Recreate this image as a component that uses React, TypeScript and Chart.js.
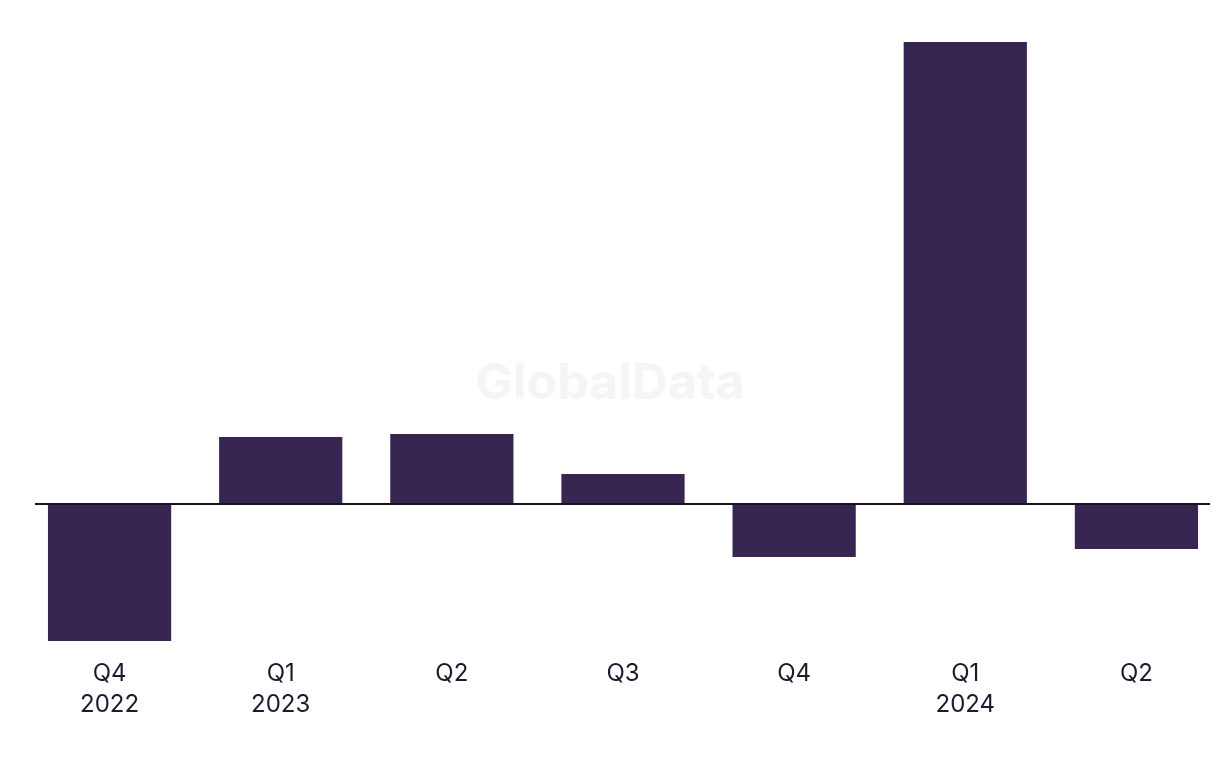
import React, { useEffect, useRef } from "react";
import { Chart, registerables } from "chart.js";

Chart.register(...registerables);

const quarters: string[][] = [["Q4", "2022"], ["Q1", "2023"], ["Q2"], ["Q3"], ["Q4"], ["Q1", "2024"], ["Q2"]];
const values: number[] = [-13.7, 6.7, 7.0, 3.0, -5.3, 46.2, -4.5];
const yMin = -13.7;
const yMax = 46.2;

const BAR_COLOR = "#372652";
const TEXT_COLOR = "#1c1a2e";

const decorPlugin = {
  id: "decor",
  beforeDatasetsDraw(chart: any) {
    const { ctx } = chart;
    ctx.save();
    ctx.font = "bold 50px Inter, 'Liberation Sans', sans-serif";
    ctx.fillStyle = "#f5f5f5";
    ctx.textAlign = "center";
    ctx.textBaseline = "middle";
    ctx.fillText("GlobalData", 610, 384);
    ctx.restore();
  },
  afterDatasetsDraw(chart: any) {
    const { ctx, scales } = chart;
    const y0 = scales.y.getPixelForValue(0);
    ctx.save();
    ctx.strokeStyle = "#14141f";
    ctx.lineWidth = 2;
    ctx.beginPath();
    ctx.moveTo(35, y0);
    ctx.lineTo(1210, y0);
    ctx.stroke();
    ctx.restore();
  },
};

export default function App() {
  const ref = useRef<HTMLCanvasElement>(null);
  useEffect(() => {
    if (!ref.current) return;
    const chart = new Chart(ref.current, {
      type: "bar",
      data: {
        labels: quarters,
        datasets: [
          {
            data: values,
            backgroundColor: BAR_COLOR,
            borderWidth: 0,
            categoryPercentage: 1,
            barPercentage: 0.72,
          },
        ],
      },
      options: {
        animation: false,
        responsive: false,
        maintainAspectRatio: false,
        layout: { padding: { top: 42, bottom: 31, left: 24, right: 0 } },
        plugins: { legend: { display: false }, tooltip: { enabled: false } },
        scales: {
          x: {
            grid: { display: false, drawTicks: false },
            border: { display: false },
            ticks: {
              color: TEXT_COLOR,
              padding: 17,
              maxRotation: 0,
              autoSkip: false,
              font: { family: "Inter, 'Liberation Sans', sans-serif", size: 24, lineHeight: 31 / 24 },
            },
          },
          y: {
            display: false,
            min: yMin,
            max: yMax,
          },
        },
      },
      plugins: [decorPlugin],
    });
    return () => chart.destroy();
  }, []);
  return (
    <div style={{ position: "fixed", left: 0, top: 0, width: 1220, height: 768, overflow: "hidden", background: "#fff" }}>
      <canvas ref={ref} width={1222} height={768} style={{ display: "block" }} />
    </div>
  );
}
